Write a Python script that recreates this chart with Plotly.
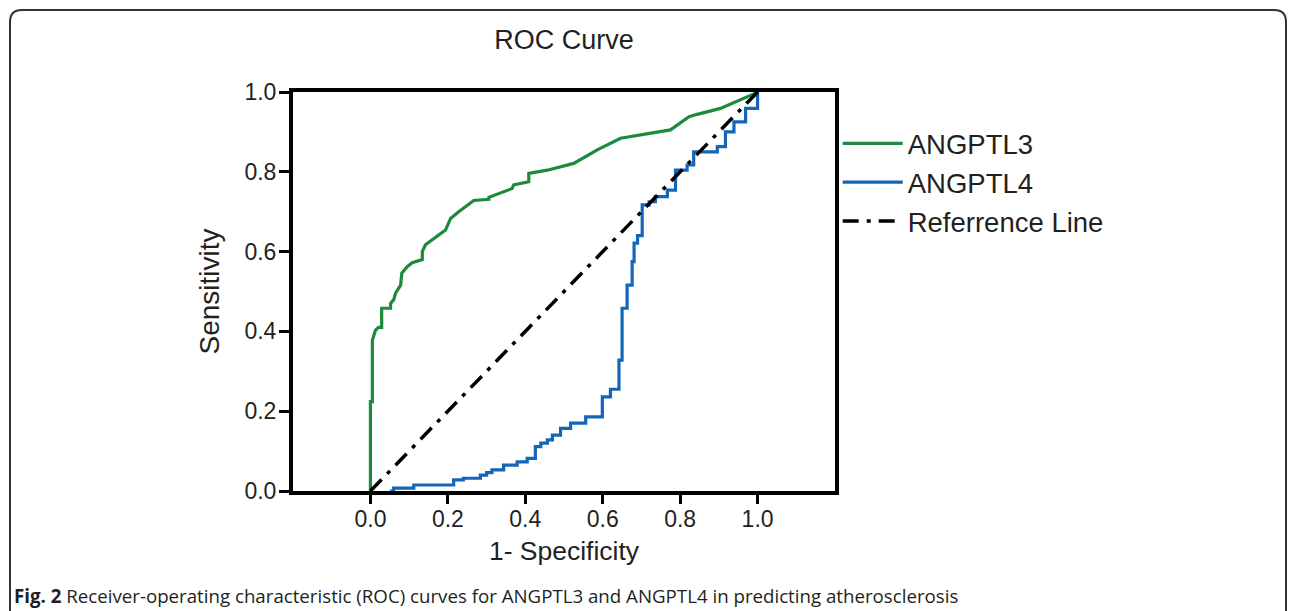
import plotly.graph_objects as go

# ---- data ----
angptl3_x = [0, 0, 0.005, 0.005, 0.013, 0.021, 0.029, 0.029, 0.052, 0.052, 0.06, 0.065,
             0.078, 0.081, 0.095, 0.108, 0.134, 0.134, 0.142, 0.194, 0.207, 0.228, 0.267,
             0.306, 0.306, 0.366, 0.370, 0.409, 0.409, 0.457, 0.525, 0.586, 0.646, 0.775,
             0.823, 0.844, 0.904, 0.947, 0.995, 1.0]
angptl3_y = [0, 0.224, 0.224, 0.378, 0.403, 0.41, 0.41, 0.458, 0.458, 0.47, 0.479, 0.496,
             0.516, 0.546, 0.562, 0.572, 0.58, 0.6, 0.617, 0.654, 0.683, 0.7, 0.728,
             0.731, 0.736, 0.758, 0.767, 0.775, 0.796, 0.804, 0.821, 0.855, 0.884, 0.905,
             0.938, 0.944, 0.959, 0.976, 0.997, 1.0]

angptl4_x = [0.05, 0.06, 0.112, 0.215, 0.24, 0.284, 0.30, 0.314, 0.344, 0.379, 0.405,
             0.426, 0.44, 0.457, 0.47, 0.491, 0.517, 0.556, 0.599, 0.62, 0.642, 0.65,
             0.663, 0.676, 0.681, 0.69, 0.702, 0.72, 0.736, 0.767, 0.788, 0.818, 0.835,
             0.896, 0.917, 0.939, 0.969, 1.0]
angptl4_y = [0.0, 0.007, 0.015, 0.028, 0.032, 0.04, 0.046, 0.053, 0.065, 0.073, 0.082,
             0.111, 0.12, 0.128, 0.14, 0.157, 0.17, 0.186, 0.236, 0.255, 0.328, 0.458,
             0.516, 0.575, 0.621, 0.64, 0.717, 0.725, 0.738, 0.754, 0.804, 0.817, 0.85,
             0.863, 0.9, 0.925, 0.959, 1.0]

ref_x = [0, 1]
ref_y = [0, 1]

x_ticks = [0.0, 0.2, 0.4, 0.6, 0.8, 1.0]
y_ticks = [0.0, 0.2, 0.4, 0.6, 0.8, 1.0]

title_text = "ROC Curve"
x_title = "1- Specificity"
y_title = "Sensitivity"
caption = "<b>Fig. 2</b> Receiver-operating characteristic (ROC) curves for ANGPTL3 and ANGPTL4 in predicting atherosclerosis"

GREEN = "#1c8a3c"
BLUE = "#1565b8"
TXT = "#231f20"
FONT = "Liberation Sans, Arial, sans-serif"

fig = go.Figure()
fig.add_trace(go.Scatter(x=angptl3_x, y=angptl3_y, mode="lines", name="ANGPTL3",
                         line=dict(color=GREEN, width=3.2)))
fig.add_trace(go.Scatter(x=angptl4_x, y=angptl4_y, mode="lines", name="ANGPTL4",
                         line=dict(color=BLUE, width=3.2, shape="hv")))
fig.add_trace(go.Scatter(x=ref_x, y=ref_y, mode="lines", name="Referrence Line",
                         line=dict(color="black", width=3.5, dash="16px,8px,4px,8px")))

# the page body has an 8px margin, so the figure is 8px smaller on each side
FW, FH = 1287, 603
W, H = 542, 399
L, T = 293 - 8, 92 - 8
R = FW - L - W
B = FH - T - H

def px_x(p):  # reference screenshot px -> paper
    return (p - 293) / W

def px_y(p):
    return (491 - p) / H

# rounded outer frame
x0, x1 = px_x(10), px_x(1286)
y0, y1 = px_y(10), px_y(650)
rx, ry = 12 / W, 12 / H
path = (f"M{x0+rx},{y0} L{x1-rx},{y0} Q{x1},{y0} {x1},{y0-ry} "
        f"L{x1},{y1} L{x0},{y1} L{x0},{y0-ry} Q{x0},{y0} {x0+rx},{y0} Z")
fig.add_shape(type="path", path=path, xref="paper", yref="paper",
              line=dict(color="#333", width=2), layer="below")

fig.add_annotation(text=caption, xref="paper", yref="paper", x=px_x(12), y=px_y(595),
                   xanchor="left", yanchor="middle", showarrow=False,
                   font=dict(family="Open Sans, sans-serif", size=18.7, color=TXT))

fig.update_layout(
    width=FW, height=FH,
    margin=dict(l=L, r=R, t=T, b=B),
    paper_bgcolor="white", plot_bgcolor="white",
    font=dict(family=FONT, color=TXT),
    title=dict(text=title_text, x=0.5, xref="paper", xanchor="center",
               y=1 - 32 / FH, yanchor="middle", font=dict(size=27, family=FONT, color=TXT)),
    showlegend=True,
    legend=dict(x=1.005, y=px_y(119), xanchor="left", yanchor="top",
                font=dict(size=27.5, family=FONT, color=TXT),
                itemwidth=60, tracegroupgap=0, bgcolor="rgba(0,0,0,0)"),
)
fig.update_xaxes(range=[-0.2, 1.2], tickvals=x_ticks, tickformat=".1f",
                 showgrid=False, zeroline=False, showline=True, linewidth=4,
                 linecolor="black", mirror=True, ticks="outside", ticklen=9,
                 tickwidth=3, tickcolor="black", tickfont=dict(size=23, color=TXT),
                 ticklabelstandoff=-5,
                 title=dict(text=x_title, font=dict(size=26.5, color=TXT), standoff=12))
fig.update_yaxes(range=[0, 1], tickvals=y_ticks, tickformat=".1f",
                 showgrid=False, zeroline=False, showline=True, linewidth=4,
                 linecolor="black", mirror=True, ticks="outside", ticklen=10,
                 tickwidth=3, tickcolor="black", tickfont=dict(size=23, color=TXT),
                 ticklabelstandoff=-2,
                 title=dict(text=y_title, font=dict(size=28, color=TXT), standoff=18))

fig.write_html("out.html")
